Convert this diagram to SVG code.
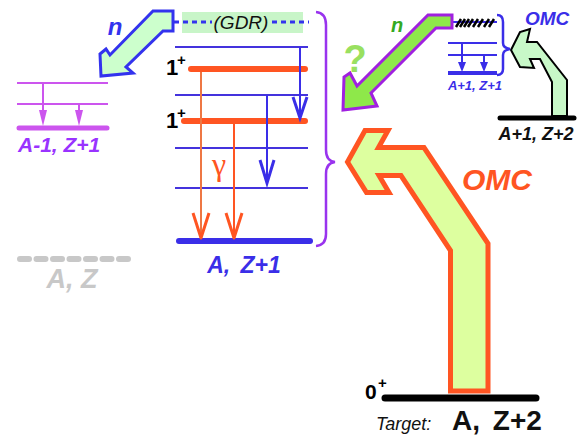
<svg xmlns="http://www.w3.org/2000/svg" width="586" height="436" viewBox="0 0 586 436">
<style>
text{font-family:"Liberation Sans",Arial,sans-serif}
.bi{font-weight:bold;font-style:italic}
.b{font-weight:bold}
.thinB{stroke:#4433dd;stroke-width:2;fill:none}
.orL{stroke:#ff5522;stroke-width:6;stroke-linecap:round}
.orA{stroke:#ff5522;stroke-width:2;fill:none}
.orH{stroke:#ff5522;stroke-width:3;fill:none;stroke-linejoin:round}
.blA{stroke:#3a2ee8;stroke-width:2;fill:none}
.blH{stroke:#3a2ee8;stroke-width:3;fill:none}
.mg{stroke:#cc55ee;fill:none}
</style>
<rect width="586" height="436" fill="#ffffff"/>

<g id="nucleus-A-Z1">
<rect x="182" y="12" width="121" height="21" fill="#c8f5c8"/>
<text x="241" y="29" font-size="19" font-style="italic" text-anchor="middle" fill="#111">(GDR)</text>
<line x1="175" y1="47" x2="308" y2="47" class="thinB"/>
<line x1="175" y1="95" x2="308" y2="95" class="thinB"/>
<line x1="175" y1="148" x2="308" y2="148" class="thinB"/>
<line x1="175" y1="188" x2="308" y2="188" class="thinB"/>
<line x1="191" y1="69" x2="305" y2="69" class="orL"/>
<line x1="184" y1="121" x2="305" y2="121" class="orL"/>
<line x1="179" y1="241" x2="310" y2="241" stroke="#3a2ee8" stroke-width="6" stroke-linecap="round"/>
<text x="166" y="75" font-size="22" class="b" fill="#000">1</text>
<text x="177" y="65" font-size="15" class="b" fill="#000">+</text>
<text x="166" y="128" font-size="22" class="b" fill="#000">1</text>
<text x="177" y="118" font-size="15" class="b" fill="#000">+</text>
<text x="219" y="175" font-size="32" font-family="Liberation Serif, serif" style="font-family:'Liberation Serif',serif" text-anchor="middle" fill="#ff5522">γ</text>
<text x="244" y="273" font-size="23" class="bi" text-anchor="middle" fill="#3a2ee8" word-spacing="4">A, Z+1</text>
</g>

<g id="nucleus-A-1-Z1">
<line x1="17" y1="83" x2="108" y2="83" class="mg" stroke-width="2"/>
<line x1="17" y1="104" x2="108" y2="104" class="mg" stroke-width="2"/>
<line x1="19" y1="128" x2="107" y2="128" class="mg" stroke-width="5" stroke-linecap="round"/>
<text x="18" y="152" font-size="21" class="bi" fill="#9933ff">A-1, Z+1</text>
</g>

<g id="nucleus-A-Z">
<line x1="20" y1="259" x2="131" y2="259" stroke="#c8c8c8" stroke-width="6" stroke-linecap="round" stroke-dasharray="9 7.5"/>
<text x="72" y="288" font-size="27" class="bi" text-anchor="middle" fill="#c8c8c8">A, Z</text>
</g>

<g id="nucleus-A1-Z1">
<line x1="453" y1="22" x2="497" y2="22" stroke="#3a2ee8" stroke-width="2"/>
<path d="M456,27 L461,19 M460,27 L465,19 M464,27 L469,19 M468,27 L473,19 M473,27 L478,19 M478,27 L483,19 M484,27 L489,19 M489,27 L494,19" stroke="#000" stroke-width="2.5" fill="none"/>
<line x1="448" y1="43" x2="497" y2="43" stroke="#3a2ee8" stroke-width="2"/>
<line x1="448" y1="55" x2="497" y2="55" stroke="#3a2ee8" stroke-width="2"/>
<line x1="448" y1="73" x2="497" y2="73" stroke="#3a2ee8" stroke-width="4"/>
<text x="475" y="90" font-size="13" class="bi" text-anchor="middle" fill="#3a2ee8">A+1, Z+1</text>
</g>

<g id="nucleus-A1-Z2">
<line x1="500" y1="118" x2="574" y2="118" stroke="#000" stroke-width="5" stroke-linecap="round"/>
<text x="536" y="140" font-size="18" class="bi" text-anchor="middle" fill="#111">A+1, Z+2</text>
</g>

<g id="target">
<line x1="385" y1="398" x2="536" y2="398" stroke="#000" stroke-width="7" stroke-linecap="round"/>
<text x="365" y="399" font-size="21" class="b" fill="#000">0</text>
<text x="378" y="388" font-size="15" class="b" fill="#000">+</text>
<text x="376" y="430" font-size="18" font-style="italic" fill="#111">Target:</text>
<text x="452" y="430" font-size="28" class="b" fill="#111" word-spacing="5">A, Z+2</text>
</g>

<g id="omc-big">
<polygon points="347.5,162 365,130.5 388,130.5 378.5,147.5 424,147.5 488,243.5 488,391 450.5,391 450.5,250.5 401,175.5 379,175.5 389,192.5 366.5,192.5" fill="#ddff9f" stroke="#ff5522" stroke-width="5" stroke-linejoin="miter"/>
<text x="462" y="190" font-size="30" class="bi" fill="#ff5522">OMC</text>
</g>

<g id="omc-small">
<polygon points="511,50 520,32 530,29 527,42 537,42 567,80 567,116 552,116 552,82 540,59 530,59 534,68 520,67" fill="#c8f8c8" stroke="#000" stroke-width="2"/>
<text x="525" y="25" font-size="19" class="bi" fill="#3a2ee8">OMC</text>
</g>

<g id="n-blue">
<polygon points="153,11 173,11 173,31 163,31 126,67 133,73 101,76 100,54 106,49 110,55" fill="#ccffcc" stroke="#3333ee" stroke-width="3" stroke-linejoin="miter"/>
<text x="115" y="35" font-size="24" class="bi" text-anchor="middle" fill="#3333ee">n</text>
</g>

<g id="n-green">
<polygon points="428,15 452,15 452,28 436,28 371,93 377,106 343,110 344,77 350,73 357,86" fill="#8ee84a" stroke="#a020e0" stroke-width="3" stroke-linejoin="miter"/>
<text x="397" y="32" font-size="20" class="bi" text-anchor="middle" fill="#33aa22">n</text>
<text x="355" y="72" font-size="38" class="b" text-anchor="middle" fill="#99e060">?</text>
</g>

<g id="connectors">
<line x1="174" y1="22" x2="212" y2="22" stroke="#3333ee" stroke-width="3" stroke-dasharray="5 4"/>
<line x1="272" y1="22" x2="309" y2="22" stroke="#3333ee" stroke-width="3" stroke-dasharray="5 4"/>
<line x1="201" y1="72" x2="201" y2="238" stroke="#ee7744" stroke-width="2"/>
<path d="M193,213 L201,238 L209,213" class="orH"/>
<line x1="234" y1="124" x2="234" y2="238" class="orA"/>
<path d="M226,213 L234,238 L242,213" class="orH"/>
<line x1="300" y1="47" x2="300" y2="118" class="blA"/>
<path d="M293,97 L300,118 L307,97" class="blH"/>
<line x1="267" y1="95" x2="267" y2="183" class="blA"/>
<path d="M260,160 L267,183 L274,160" class="blH"/>
<path d="M316,12 Q326,13 326,25 L326,150 Q326,161 335,162 Q326,163 326,174 L326,234 Q326,245 316,246" stroke="#9933ee" stroke-width="2.5" fill="none"/>
<path d="M497,15 Q503,15 503,22 L503,43 Q503,48 510,49 Q503,50 503,55 L503,69 Q503,75 497,75" stroke="#3a2ee8" stroke-width="2.5" fill="none"/>
<line x1="43" y1="83" x2="43" y2="120" class="mg" stroke-width="2"/>
<polygon points="39,110 47,110 43,126" fill="#cc55ee"/>
<line x1="79" y1="104" x2="79" y2="120" class="mg" stroke-width="2"/>
<polygon points="75,110 83,110 79,126" fill="#cc55ee"/>
<line x1="462" y1="43" x2="462" y2="66" stroke="#3a2ee8" stroke-width="2"/>
<polygon points="458,62 466,62 462,72" fill="#3a2ee8"/>
<line x1="484" y1="55" x2="484" y2="66" stroke="#3a2ee8" stroke-width="2"/>
<polygon points="480,62 488,62 484,72" fill="#3a2ee8"/>
</g>
</svg>
